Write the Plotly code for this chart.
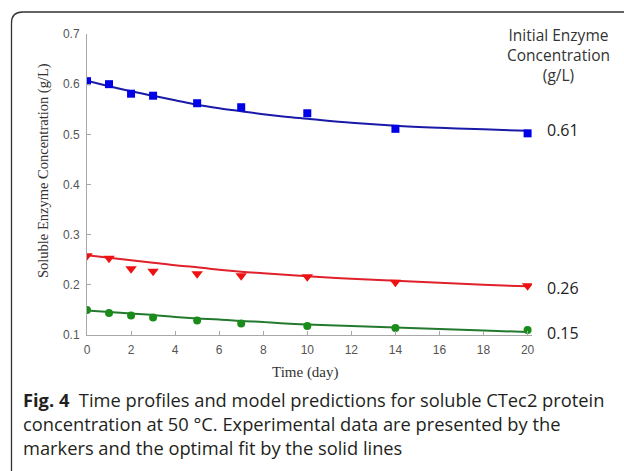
import plotly.graph_objects as go

# ---- data ----
time_days = [0, 1, 2, 3, 5, 7, 10, 14, 20]
data_061 = [0.606, 0.600, 0.581, 0.577, 0.562, 0.554, 0.542, 0.511, 0.502]
data_026 = [0.258, 0.253, 0.232, 0.227, 0.222, 0.218, 0.216, 0.205, 0.198]
data_015 = [0.150, 0.144, 0.139, 0.135, 0.129, 0.123, 0.118, 0.114, 0.110]

fit_time = [0, 1, 2, 3, 4, 5, 6, 7, 8, 9, 10, 12, 14, 16, 18, 20]
fit_061 = [0.607, 0.596, 0.586, 0.577, 0.568, 0.559, 0.552, 0.546, 0.540, 0.535,
           0.531, 0.523, 0.517, 0.513, 0.510, 0.507]
fit_026 = [0.259, 0.254, 0.249, 0.244, 0.239, 0.235, 0.230, 0.226, 0.223, 0.220,
           0.217, 0.212, 0.208, 0.204, 0.200, 0.197]
fit_015 = [0.149, 0.146, 0.143, 0.140, 0.136, 0.133, 0.131, 0.128, 0.126, 0.123,
           0.121, 0.118, 0.115, 0.112, 0.109, 0.106]

x_ticks = [0, 2, 4, 6, 8, 10, 12, 14, 16, 18, 20]
y_ticks = [0.1, 0.2, 0.3, 0.4, 0.5, 0.6, 0.7]
series_labels = ["0.61", "0.26", "0.15"]

W, H = 624, 471
L, R, T, B = 87, 532, 34, 335  # plot area pixel box


def px(x):
    return (x - L) / (R - L)


def py(y):
    return (B - y) / (B - T)


fig = go.Figure()

series = [
    (data_061, fit_061, "#0000e6", "#1a1aa8", "square", 8),
    (data_026, fit_026, "#ee1111", "#e0202a", "triangle-down", 10),
    (data_015, fit_015, "#1a8c1a", "#237a2e", "circle", 8),
]
for dat, fit, mcol, lcol, sym, msz in series:
    fig.add_trace(go.Scatter(x=fit_time, y=fit, mode="lines",
                             line=dict(color=lcol, width=2, shape="spline"),
                             showlegend=False, hoverinfo="skip"))
    fig.add_trace(go.Scatter(x=time_days, y=dat, mode="markers",
                             marker=dict(symbol=sym, size=msz, color=mcol),
                             showlegend=False))

# labels on right
label_px = [130, 288, 333]
for lab, ypx in zip(series_labels, label_px):
    fig.add_annotation(xref="paper", yref="paper", x=px(545), y=py(ypx),
                       text=lab, showarrow=False, xanchor="left", yanchor="middle",
                       font=dict(family="Open Sans", size=16, color="#222"))

fig.add_annotation(xref="paper", yref="paper", x=px(558), y=py(22),
                   text="Initial Enzyme<br>Concentration<br>(g/L)", showarrow=False,
                   xanchor="center", yanchor="top", align="center",
                   font=dict(family="Open Sans", size=15.5, color="#333"))

# axis titles
fig.add_annotation(xref="paper", yref="paper", x=px(43), y=py(171),
                   text="Soluble Enzyme Concentration (g/L)", showarrow=False,
                   textangle=-90, xanchor="center", yanchor="middle",
                   font=dict(family="Liberation Serif", size=14.5, color="#333"))
fig.add_annotation(xref="paper", yref="paper", x=px(305), y=py(372),
                   text="Time (day)", showarrow=False,
                   xanchor="center", yanchor="middle",
                   font=dict(family="Liberation Serif", size=15, color="#333"))

# caption
caption = ("<b>Fig. 4</b>  Time profiles and model predictions for soluble CTec2 protein<br>"
           "concentration at 50 °C. Experimental data are presented by the<br>"
           "markers and the optimal fit by the solid lines")
fig.add_annotation(xref="paper", yref="paper", x=px(21), y=py(385),
                   text=caption, showarrow=False, xanchor="left", yanchor="top",
                   align="left",
                   font=dict(family="Open Sans", size=18.3, color="#231f20"))

# rounded frame (top-left corner visible)
r = 11
path = (f"M {px(11.5)},{py(480)} L {px(11.5)},{py(12 + r)} "
        f"Q {px(11.5)},{py(12)} {px(11.5 + r)},{py(12)} L {px(640)},{py(12)}")
fig.add_shape(type="path", xref="paper", yref="paper", path=path,
              line=dict(color="#333", width=1.3))

axis_common = dict(showgrid=False, zeroline=False, showline=True,
                   linecolor="#a8a8a8", linewidth=1, ticks="inside",
                   ticklen=4, tickcolor="#a8a8a8",
                   tickfont=dict(family="Liberation Sans", size=12, color="#555"))

fig.update_xaxes(range=[0, 20.2], tickvals=x_ticks, ticklabelstandoff=4,
                 **axis_common)
fig.update_yaxes(range=[0.1, 0.7], tickvals=y_ticks, ticklabelstandoff=4,
                 ticktext=[f"{v:.1f}" for v in y_ticks],
                 **axis_common)

fig.update_layout(width=W, height=H, autosize=False,
                  margin=dict(l=L, r=W - R, t=T, b=H - B),
                  paper_bgcolor="white", plot_bgcolor="white")

fig.write_html("out.html")
